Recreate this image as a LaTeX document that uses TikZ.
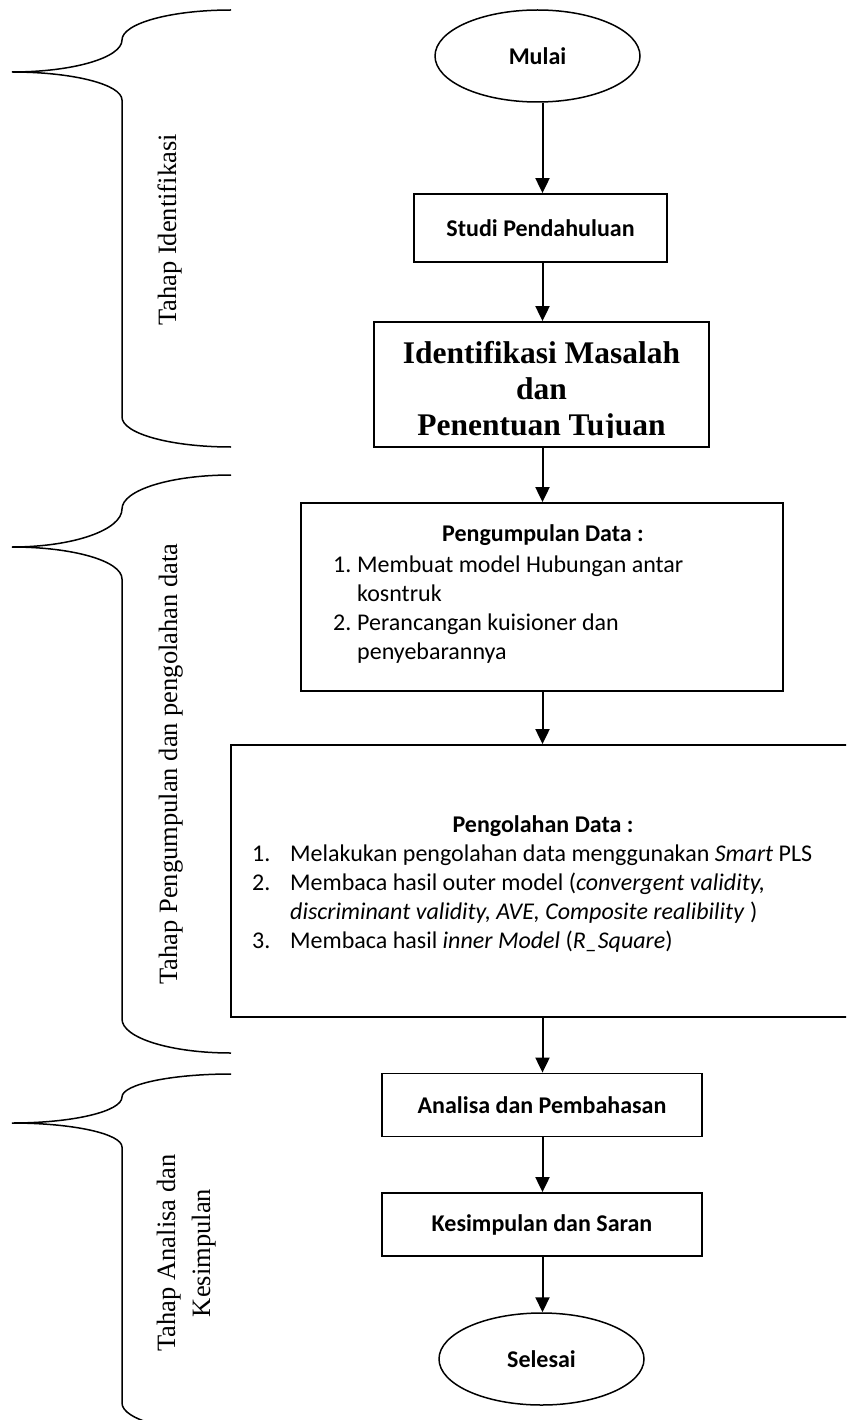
\documentclass[tikz,border=0pt]{standalone}
\usepackage{fontspec}
\setmainfont{Carlito}
\newfontfamily\tnr{Liberation Serif}
\usetikzlibrary{arrows.meta,shapes.geometric}
\tikzset{
  box/.style={draw, line width=1.8pt, inner sep=0pt, font=\fontsize{24}{29.3}\selectfont\bfseries},
  term/.style={ellipse, draw, line width=1.5pt, minimum width=205pt, minimum height=92pt, inner sep=0pt, font=\fontsize{24}{29.3}\selectfont\bfseries},
  arr/.style={line width=2pt, -{Triangle[length=15pt,width=14pt]}},
  br/.style={line width=1.5pt},
  lbl/.style={font=\tnr\fontsize{26.5}{35}\selectfont, rotate=90, anchor=base, inner sep=0pt},
  txt/.style={inner sep=0pt, font=\fontsize{24}{29.3}\selectfont},
  ttl/.style={inner sep=0pt, anchor=base, font=\fontsize{24}{29.3}\selectfont\bfseries},
}
\begin{document}
\begin{tikzpicture}[x=1pt,y=-1pt]
\useasboundingbox (0,0) rectangle (846,1420);
\clip (0,0) rectangle (846,1420);
\coordinate (ax) at (542.5,0);

% flow nodes
\node[term] (mulai) at (537.5,56) {Mulai};
\node[box, minimum width=253pt, minimum height=68pt] (studi) at (540.5,228) {Studi Pendahuluan};
\node[box, minimum width=335pt, minimum height=125pt] (ident) at (541.5,384.5) {};
\begin{scope}
\clip (374,322) rectangle (709,437);
\node[inner sep=0pt, anchor=base, font=\tnr\bfseries\fontsize{31.5}{36}\selectfont] (identtxt) at (541.5,363)
  {\begin{tabular}[t]{@{}c@{}}Identifikasi Masalah\\dan\\Penentuan Tujuan\end{tabular}};
\end{scope}

\node[box, minimum width=482pt, minimum height=188pt] (kumpul) at (542,597) {};
\node[ttl] (kumpult) at (543,541) {Pengumpulan Data :};
\node[txt, anchor=base west] (kumpull) at (333,572)
  {\begin{tabular}[t]{@{}l@{}l@{}}
   \makebox[24pt][l]{1.}&Membuat model Hubungan antar\\
   &kosntruk\\
   \makebox[24pt][l]{2.}&Perancangan kuisioner dan\\
   &penyebarannya
   \end{tabular}};

\node[box, minimum width=619pt, minimum height=272pt] (olah) at (540.5,881) {};
\node[ttl] (olaht) at (543,832) {Pengolahan Data :};
\node[txt, anchor=base west] (olahl) at (252,861)
  {\begin{tabular}[t]{@{}l@{}l@{}}
   \makebox[38pt][l]{1.}&Melakukan pengolahan data menggunakan \textit{Smart} PLS\\
   \makebox[38pt][l]{2.}&Membaca hasil outer model (\textit{convergent validity,}\\
   &\textit{discriminant validity, AVE, Composite realibility} )\\
   \makebox[38pt][l]{3.}&Membaca hasil \textit{inner Model} (\textit{R\_Square})
   \end{tabular}};

\node[box, minimum width=320pt, minimum height=63pt] (analisa) at (542,1105) {Analisa dan Pembahasan};
\node[box, minimum width=320pt, minimum height=63pt] (simpul) at (542,1224.5) {Kesimpulan dan Saran};
\node[term] (selesai) at (541.5,1359) {Selesai};

% connectors
\draw[arr] (mulai.south -| ax) -- (studi.north -| ax);
\draw[arr] (studi.south -| ax) -- (ident.north -| ax);
\draw[arr] (ident.south -| ax) -- (kumpul.north -| ax);
\draw[arr] (kumpul.south -| ax) -- (olah.north -| ax);
\draw[arr] (olah.south -| ax) -- (analisa.north -| ax);
\draw[arr] (analisa.south -| ax) -- (simpul.north -| ax);
\draw[arr] (simpul.south -| ax) -- (selesai.north -| ax);

% phase braces
\draw[br] (231,10) .. controls (171,10) and (122,23.4) .. (122,40)
  .. controls (122,57.7) and (73,72) .. (12,72)
  .. controls (73,72) and (122,84.5) .. (122,100)
  -- (122,417)
  .. controls (122,433.6) and (171,447) .. (231,447);
\draw[br] (231,475) .. controls (171,475) and (122,490) .. (122,509)
  .. controls (122,530) and (73,547) .. (12,547)
  .. controls (73,547) and (122,561) .. (122,579)
  -- (122,1019)
  .. controls (122,1038) and (171,1053) .. (231,1053);
\draw[br] (231,1074) .. controls (171,1074) and (122,1084.3) .. (122,1097)
  .. controls (122,1111.4) and (73,1123) .. (12,1123)
  .. controls (73,1123) and (122,1133.8) .. (122,1147)
  -- (122,1403)
  .. controls (122,1419.6) and (171,1433) .. (231,1433);

\node[lbl] (ph1) at (176,230) {Tahap Identifikasi};
\node[lbl] (ph2) at (177,764) {Tahap Pengumpulan dan pengolahan data};
\node[lbl] (ph3) at (175,1253) {\begin{tabular}[t]{@{}c@{}}Tahap Analisa dan\\Kesimpulan\end{tabular}};
\end{tikzpicture}
\end{document}
